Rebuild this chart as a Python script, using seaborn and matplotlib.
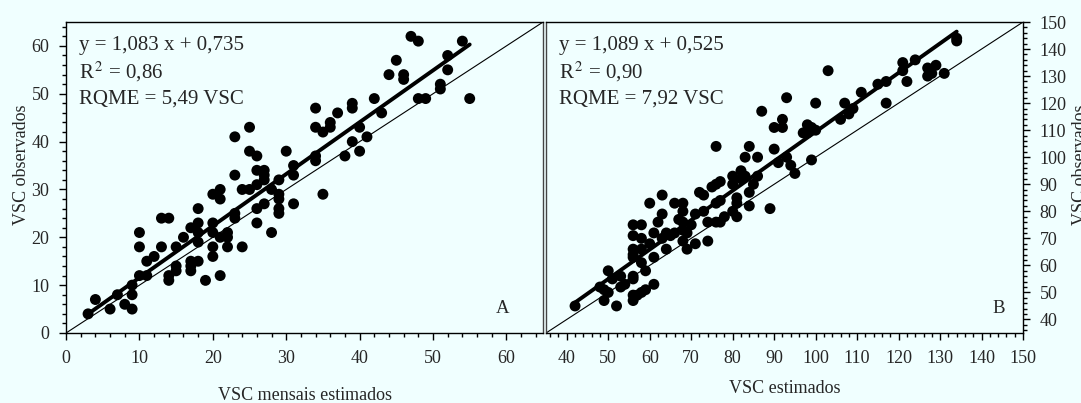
import matplotlib
matplotlib.use("Agg")
import matplotlib.pyplot as plt
from matplotlib.ticker import MultipleLocator
import numpy as np
import pandas as pd
import seaborn as sns

# painel A - VSC mensais
est_a = [3, 4, 6, 7, 8, 9, 9, 9, 10, 10, 10, 11, 11, 12, 13, 13, 14, 14, 14, 15,
         15, 15, 16, 17, 17, 17, 17, 18, 18, 18, 18, 18, 19, 20, 20, 20, 20, 20, 21, 21,
         21, 21, 22, 22, 22, 23, 23, 23, 23, 24, 24, 25, 25, 25, 26, 26, 26, 26, 26, 27,
         27, 27, 27, 28, 28, 29, 29, 29, 29, 29, 30, 31, 31, 31, 34, 34, 34, 34, 35, 35,
         36, 36, 37, 38, 39, 39, 39, 40, 40, 41, 42, 43, 44, 45, 46, 46, 47, 48, 48, 49,
         51, 51, 52, 52, 54, 55]
obs_a = [4, 7, 5, 8, 6, 5, 8, 10, 21, 18, 12, 15, 12, 16, 18, 24, 24, 12, 11, 18,
         14, 13, 20, 22, 15, 14, 13, 26, 23, 21, 19, 15, 11, 29, 23, 21, 18, 16, 30, 28,
         20, 12, 21, 20, 18, 41, 33, 25, 24, 30, 18, 43, 38, 30, 37, 34, 31, 26, 23, 34,
         33, 32, 27, 30, 21, 32, 29, 28, 26, 25, 38, 35, 33, 27, 47, 43, 37, 36, 42, 29,
         44, 43, 46, 37, 48, 47, 40, 43, 38, 41, 49, 46, 54, 57, 54, 53, 62, 61, 49, 49,
         52, 51, 58, 55, 61, 49]

# painel B - VSC
est_b = [42, 49, 49, 48, 50, 50, 52, 51, 53, 53, 54, 56, 56, 56, 56, 56, 56, 56, 56, 56,
         57, 58, 58, 58, 58, 58, 59, 59, 60, 60, 61, 61, 61, 62, 63, 63, 63, 64, 64, 65,
         66, 66, 67, 68, 68, 68, 68, 68, 69, 69, 70, 71, 71, 72, 73, 73, 74, 74, 75, 76,
         76, 76, 76, 77, 77, 77, 78, 80, 80, 80, 81, 81, 81, 82, 82, 83, 83, 84, 84, 84,
         85, 86, 86, 87, 89, 90, 90, 91, 92, 92, 93, 93, 94, 95, 97, 98, 98, 99, 99, 100,
         100, 103, 106, 107, 108, 109, 111, 115, 117, 117, 121, 121, 122, 124, 127, 127, 128, 129, 131, 134,
         134]
obs_b = [45, 51, 47, 52, 58, 50, 45, 55, 56, 52, 53, 75, 71, 66, 64, 63, 56, 55, 49, 47,
         49, 75, 70, 66, 61, 50, 58, 51, 83, 68, 72, 63, 53, 76, 79, 86, 70, 72, 66, 71,
         83, 72, 77, 73, 83, 80, 76, 69, 66, 72, 75, 79, 68, 87, 86, 80, 76, 69, 89, 104,
         90, 83, 76, 91, 84, 76, 78, 93, 90, 80, 85, 78, 83, 95, 92, 100, 93, 104, 87, 82,
         90, 100, 93, 117, 81, 111, 103, 98, 114, 111, 122, 100, 97, 94, 109, 112, 109, 111, 99, 120,
         110, 132, 114, 120, 116, 118, 124, 127, 128, 120, 135, 132, 128, 136, 133, 130, 131, 134, 131, 144,
         143]

coef_a = (1.083, 0.735)
coef_b = (1.089, 0.525)
textos_a = ["y = 1,083 x + 0,735", "R$^{\\,2}$ = 0,86", "RQME = 5,49 VSC"]
textos_b = ["y = 1,089 x + 0,525", "R$^{\\,2}$ = 0,90", "RQME = 7,92 VSC"]

fundo = "#F0FFFF"

sns.set_style("ticks")
plt.rcParams['font.family'] = ['Liberation Serif', 'DejaVu Serif']
plt.rcParams['mathtext.fontset'] = 'stix'
plt.rcParams['axes.facecolor'] = fundo
plt.rcParams['figure.facecolor'] = fundo


def desenhar_painel(ax, est, obs, coef, lim, textos, letra):
    df = pd.DataFrame({"est": est, "obs": obs})
    # linha 1:1
    sns.lineplot(x=list(lim), y=list(lim), ax=ax, color="black", lw=0.8)
    # reta ajustada, do menor ao maior estimado
    xr = np.array([min(est), max(est)])
    sns.lineplot(x=xr, y=coef[0] * xr + coef[1], ax=ax, color="black", lw=2.8,
                 solid_capstyle="round")
    sns.scatterplot(data=df, x="est", y="obs", ax=ax, color="black", s=62,
                    edgecolor="none", zorder=3)
    ax.set_xlim(lim)
    ax.set_ylim(lim)
    ax.xaxis.set_major_locator(MultipleLocator(10))
    ax.xaxis.set_minor_locator(MultipleLocator(2))
    ax.yaxis.set_major_locator(MultipleLocator(10))
    ax.yaxis.set_minor_locator(MultipleLocator(2))
    ax.tick_params(which="major", length=5, width=1, labelsize=13, color="black", pad=7)
    ax.tick_params(which="minor", length=3, width=1, color="black")
    for i, t in enumerate(textos):
        ax.text(0.027, 0.926 - i * 0.087, t, transform=ax.transAxes, fontsize=15,
                ha="left", va="center")
    ax.text(0.915 if letra == "A" else 0.948, 0.05, letra, transform=ax.transAxes,
            fontsize=13.5, ha="center", va="bottom")
    for s in ax.spines.values():
        s.set_color("black")
        s.set_linewidth(1)


fig = plt.figure(figsize=(10.81, 4.03), dpi=100)
ax1 = fig.add_axes([0.0611, 0.1737, 0.4413, 0.7717])
ax2 = fig.add_axes([0.5051, 0.1737, 0.4413, 0.7717])

desenhar_painel(ax1, est_a, obs_a, coef_a, (0, 65), textos_a, "A")
desenhar_painel(ax2, est_b, obs_b, coef_b, (35, 150), textos_b, "B")

ax1.tick_params(which="both", top=False, right=False)
ax1.set_xlabel("VSC mensais estimados", fontsize=13)
ax1.set_ylabel("VSC observados", fontsize=13)
ax1.xaxis.set_label_coords(0.5, -0.175)
ax1.yaxis.set_label_coords(-0.075, 0.54)
ax1.spines["right"].set_color("#444444")

ax2.yaxis.tick_right()
ax2.yaxis.set_label_position("right")
ax2.tick_params(which="both", top=False, left=False, right=True)
ax2.set_xlabel("VSC estimados", fontsize=13)
ax2.set_ylabel("VSC observados", fontsize=13)
ax2.xaxis.set_label_coords(0.5, -0.15)
ax2.yaxis.set_label_coords(1.103, 0.54)
ax2.spines["left"].set_color("#444444")

fig.savefig("out.png", dpi=100, facecolor=fundo)
